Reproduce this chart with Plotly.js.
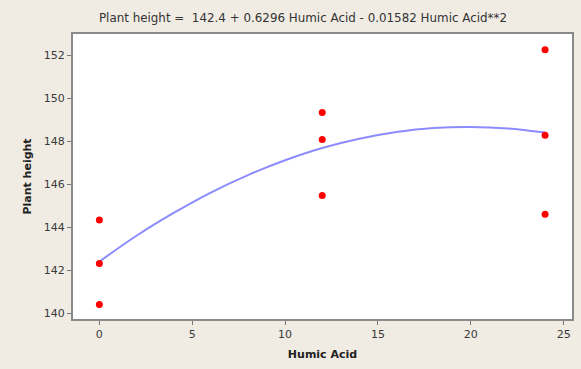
<!DOCTYPE html>
<html>
<head>
<meta charset="utf-8">
<script src="https://cdn.plot.ly/plotly-3.0.1.min.js"></script>
<style>html,body{margin:0;padding:0;background:#f0ece3;}#chart{width:581px;height:369px;}</style>
</head>
<body>
<div id="chart"></div>
<script>
// Observed data
const humicAcid = [0, 0, 0, 12, 12, 12, 24, 24, 24];
const plantHeight = [144.33, 142.31, 140.40, 149.33, 148.08, 145.47, 152.25, 148.27, 144.60];

// Fitted curve
const fitX = [0, 2, 4, 6, 8, 10, 12, 14, 16, 18, 20, 22, 24];
const fitY = [142.4, 143.6, 144.66, 145.61, 146.42, 147.11, 147.68, 148.11, 148.42, 148.61, 148.66, 148.59, 148.4];

const xTicks = [0, 5, 10, 15, 20, 25];
const yTicks = [140, 142, 144, 146, 148, 150, 152];

const titleText = 'Plant height =  142.4 + 0.6296 Humic Acid - 0.01582 Humic Acid**2';

const traces = [
  {x: fitX, y: fitY, type: 'scatter', mode: 'lines', line: {color: '#8c8cff', width: 2, shape: 'spline'}, hoverinfo: 'skip'},
  {x: humicAcid, y: plantHeight, type: 'scatter', mode: 'markers', marker: {color: '#ff0000', size: 7}}
];

const axisCommon = {
  showgrid: false, zeroline: false, showline: true, linecolor: '#8a8a8a', linewidth: 2, mirror: true,
  ticks: 'outside', ticklen: 4, tickwidth: 1, tickcolor: '#777',
  tickfont: {family: 'DejaVu Sans', size: 11, color: '#3a3a3a'}
};

const layout = {
  width: 581, height: 369,
  paper_bgcolor: '#f0ece3', plot_bgcolor: '#ffffff',
  margin: {l: 73, r: 9, t: 34, b: 50},
  showlegend: false,
  title: {text: titleText, x: 0.5215, xanchor: 'center', y: 0.953, yanchor: 'middle', font: {family: 'DejaVu Sans', size: 11.9, color: '#333'}},
  xaxis: Object.assign({}, axisCommon, {range: [-1.42, 25.45], tickvals: xTicks, ticktext: xTicks.map(String),
    title: {text: '<b>Humic Acid</b>', font: {family: 'DejaVu Sans', size: 11, color: '#222'}, standoff: 10}}),
  yaxis: Object.assign({}, axisCommon, {range: [139.73, 152.98], tickvals: yTicks, ticktext: yTicks.map(String),
    title: {text: '<b>Plant height</b>', font: {family: 'DejaVu Sans', size: 11, color: '#222'}, standoff: 10}})
};

Plotly.newPlot('chart', traces, layout, {displayModeBar: false, staticPlot: true});
</script>
</body>
</html>
